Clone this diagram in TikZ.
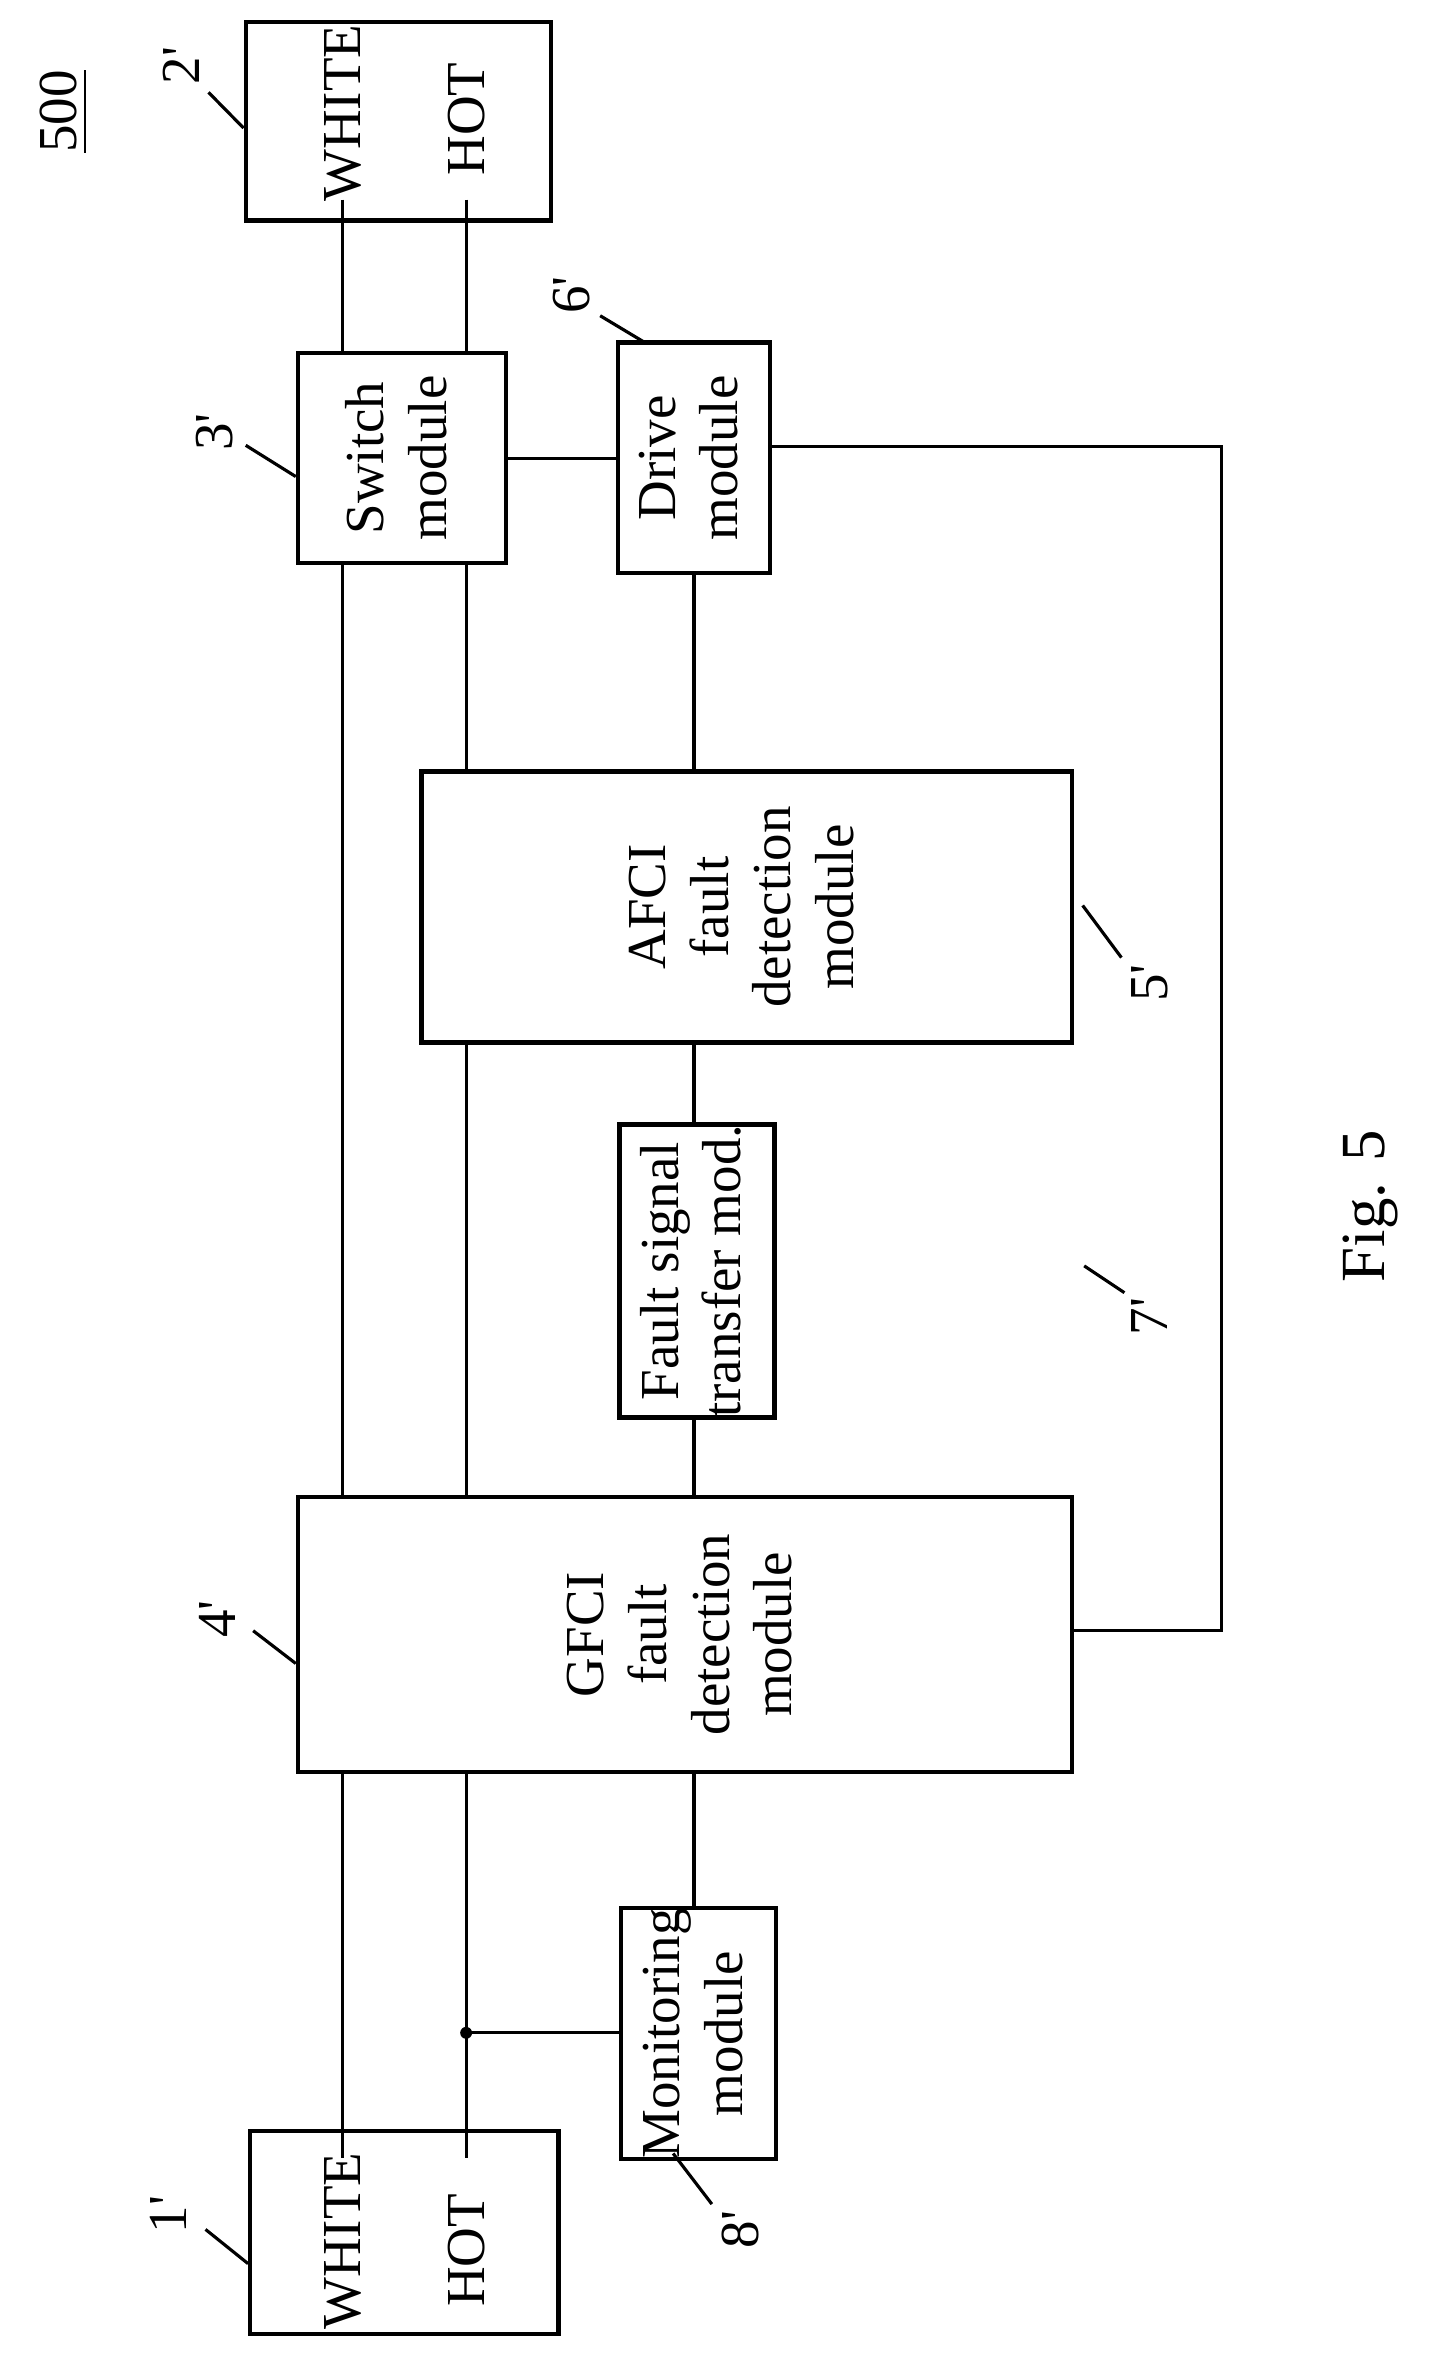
\documentclass[tikz,border=0pt]{standalone}
\usepackage{fontspec}
\setmainfont{Liberation Serif}
\usepackage{tikz}
\usetikzlibrary{calc}
\tikzset{
  blk/.style={draw, thick, inner sep=0pt, font=\fontsize{10.5}{12}\selectfont},
  wire/.style={semithick},
  lead/.style={semithick},
  num/.style={rotate=90, font=\fontsize{10.5}{12}\selectfont}
}
\newcommand{\vtext}[1]{\rotatebox{90}{\begin{tabular}{@{}c@{}}#1\end{tabular}}}
\newcommand{\pr}{\textquotesingle}

\begin{document}
\begin{tikzpicture}[x=0.1mm, y=-0.1mm]
      \useasboundingbox (0,0) rectangle (961,1580);

      % blocks
      \node[blk, minimum width=2.05cm, minimum height=1.33cm] (load) at (267.5,81.5) {};
      \node[blk, minimum width=1.40cm, minimum height=1.41cm] (sw) at (270,307.5) {\vtext{Switch\\module}};
      \node[blk, minimum width=1.02cm, minimum height=1.55cm] (drv) at (466,307.5) {\vtext{Drive\\module}};
      \node[blk, minimum width=4.37cm, minimum height=1.82cm] (afci) at (501.5,609) {\vtext{AFCI\\fault\\detection\\module}};
      \node[blk, minimum width=1.04cm, minimum height=1.83cm] (fst) at (468,853.5) {\vtext{Fault signal\\transfer mod.}};
      \node[blk, minimum width=5.20cm, minimum height=1.85cm] (gfci) at (460,1097.5) {\vtext{GFCI\\fault\\detection\\module}};
      \node[blk, minimum width=1.04cm, minimum height=1.61cm] (mon) at (469,1365.5) {\vtext{Monitoring\\module}};
      \node[blk, minimum width=2.07cm, minimum height=1.36cm] (src) at (271.5,1499) {};

      % terminal texts
      \node[num] (loadW) at (230,76) {WHITE};
      \node[num] (loadH) at (313,80) {HOT};
      \node[num] (srcW) at (230,1505) {WHITE};
      \node[num] (srcH) at (313,1511) {HOT};

      % wire ends inside terminal boxes
      \coordinate (wT) at (230,134);
      \coordinate (hT) at (313,134);
      \coordinate (wB) at (230,1449);
      \coordinate (hB) at (313,1449);
      \coordinate (tap) at (313,1365);

      % white wire
      \draw[wire] (wT) -- (wT |- sw.north);
      \draw[wire] (wT |- sw.south) -- (wT |- gfci.north);
      \draw[wire] (wB |- gfci.south) -- (wB);
      % hot wire
      \draw[wire] (hT) -- (hT |- sw.north);
      \draw[wire] (hT |- sw.south) -- (hT |- afci.north);
      \draw[wire] (hT |- afci.south) -- (hT |- gfci.north);
      \draw[wire] (hB |- gfci.south) -- (hB);
      \fill (tap) circle (4);
      \draw[wire] (tap) -- (tap -| mon.west);

      % signal lines
      \draw[wire] (sw.east |- 0,308) -- (drv.west |- 0,308);
      \draw[wire] (drv.south) -- (drv.south |- afci.north);
      \draw[wire] (fst.north -| drv.south) -- (drv.south |- afci.south);
      \draw[wire] (fst.south -| drv.south) -- (drv.south |- gfci.north);
      \draw[wire] (mon.north -| drv.south) -- (drv.south |- gfci.south);
      \draw[wire] (drv.east |- 0,300) -| (820,1095) -- (gfci.east |- 0,1095);

      % reference numerals
      \node[num] (n500) at (43,75) {\underline{500}};
      \node[num] (n2) at (122,44) {2\pr};
      \draw[lead] (140,62) -- (load.west |- 0,86);
      \node[num] (n3) at (144,290) {3\pr};
      \draw[lead] (165,299) -- (sw.west |- 0,320);
      \node[num] (n6) at (384,198) {6\pr};
      \draw[lead] (403,212) -- (433,230);
      \node[num] (n5) at (772,660) {5\pr};
      \draw[lead] (727,608) -- (753,643);
      \node[num] (n7) at (772,884) {7\pr};
      \draw[lead] (728,850) -- (755,868);
      \node[num] (n4) at (146,1087) {4\pr};
      \draw[lead] (170,1095) -- (gfci.west |- 0,1117);
      \node[num] (n8) at (497,1497) {8\pr};
      \draw[lead] (452,1446) -- (478,1480);
      \node[num] (n1) at (113,1487) {1\pr};
      \draw[lead] (138,1497) -- (src.west |- 0,1520);

      \node[rotate=90, font=\fontsize{12}{14}\selectfont] (fig) at (920,810) {Fig. 5};
    \end{tikzpicture}
\end{document}
